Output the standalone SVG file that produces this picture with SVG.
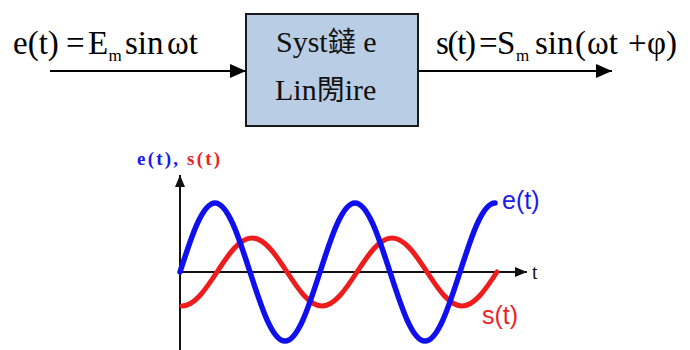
<svg xmlns="http://www.w3.org/2000/svg" width="690" height="350" viewBox="0 0 690 350">
<defs>
<style>
.eq{font-family:"Liberation Serif","Times New Roman",serif;font-size:33px;fill:#000}
.sub{font-size:17px}
.box{fill:#b9cde5;stroke:#1a1a1a;stroke-width:2}
.boxt{font-family:"Liberation Serif","Noto Sans CJK SC",serif;font-size:30px;fill:#111}
.cjk{font-family:"Noto Sans CJK SC","Noto Sans CJK TC",sans-serif;font-size:28px}
.wire{stroke:#000;stroke-width:2;fill:none}
.axis{stroke:#111;stroke-width:2;fill:none}
.lbl{font-family:"Liberation Sans",Arial,sans-serif;font-size:25px}
.ax{font-family:"Liberation Serif","Times New Roman",serif;font-weight:bold;font-size:19px}
</style>
<marker id="arr" viewBox="0 0 16 14" refX="16" refY="7" markerWidth="16" markerHeight="14" markerUnits="userSpaceOnUse" orient="auto">
<path d="M0,0 L16,7 L0,14 Z" fill="#000"/>
</marker>
<marker id="arrs" viewBox="0 0 12 10" refX="12" refY="5" markerWidth="12" markerHeight="10" markerUnits="userSpaceOnUse" orient="auto">
<path d="M0,0 L12,5 L0,10 Z" fill="#111"/>
</marker>
</defs>
<rect width="690" height="350" fill="#fff"/>

<g id="input-label">
<text class="eq" y="54"><tspan x="13">e(t)</tspan><tspan x="66">=</tspan><tspan x="88">E</tspan><tspan x="108.5" y="61" class="sub">m</tspan><tspan x="125" y="54">sin</tspan><tspan x="167">ωt</tspan></text>
</g>

<g id="system">
<rect class="box" x="246" y="14" width="172" height="112"/>
<text class="boxt" x="276" y="52">Syst<tspan class="cjk">鐽</tspan> e</text>
<text class="boxt" x="275" y="100">Lin<tspan class="cjk">閍</tspan>ire</text>
</g>

<g id="output-label">
<text class="eq" y="54"><tspan x="436" textLength="40">s(t)</tspan><tspan x="479">=</tspan><tspan x="497">S</tspan><tspan x="516" y="61" class="sub">m</tspan><tspan x="535" y="54">sin</tspan><tspan x="575">(</tspan><tspan x="587">ωt</tspan><tspan x="628">+</tspan><tspan x="647">φ)</tspan></text>
</g>

<g id="connectors">
<line class="wire" x1="50" y1="71" x2="246" y2="71" marker-end="url(#arr)"/>
<line class="wire" x1="418" y1="71" x2="612" y2="71" marker-end="url(#arr)"/>
</g>

<g id="chart">
<line class="axis" x1="180" y1="350" x2="180" y2="175" marker-end="url(#arrs)"/>
<line class="axis" x1="180" y1="272" x2="527" y2="272" marker-end="url(#arrs)"/>
<text x="532" y="279" font-family="Liberation Serif, serif" font-size="20" fill="#111">t</text>
<text class="ax" x="137" y="165" textLength="83" lengthAdjust="spacing"><tspan fill="#1a1aee">e(t),</tspan><tspan fill="#e8262a"> s(t)</tspan></text>
<path fill="none" stroke="#ee1c1c" stroke-width="5" stroke-linecap="round" d="M182,306 C194.67,306 205.59,289.42 217,272 C228.41,254.58 239.33,238 252,238 C264.67,238 275.59,254.58 287,272 C298.41,289.42 309.33,306 322,306 C334.67,306 345.59,289.42 357,272 C368.41,254.58 379.33,238 392,238 C404.67,238 415.59,254.58 427,272 C438.41,289.42 449.33,306 462,306 C474.67,306 485.59,289.42 497,272"/>
<path fill="none" stroke="#1010ee" stroke-width="5.5" stroke-linecap="round" d="M180,272 C191.41,236.65 202.33,203 215,203 C227.67,203 238.59,236.65 250,272 C261.41,307.35 272.33,341 285,341 C297.67,341 308.59,307.35 320,272 C331.41,236.65 342.33,203 355,203 C367.67,203 378.59,236.65 390,272 C401.41,307.35 412.33,341 425,341 C437.67,341 448.59,307.35 460,272 C471.41,236.65 482.33,203 495,203"/>
<text class="lbl" x="502" y="209" fill="#1a1aee">e(t)</text>
<text class="lbl" x="482" y="324" fill="#e8262a">s(t)</text>
</g>
</svg>
